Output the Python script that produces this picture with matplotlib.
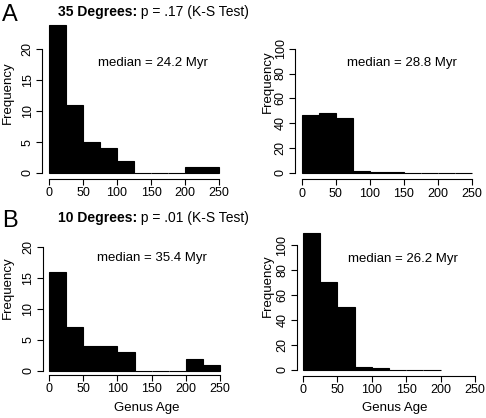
import numpy as np
import matplotlib
matplotlib.use("Agg")
import matplotlib.pyplot as plt

plt.rcParams['font.family'] = ['Liberation Sans', 'DejaVu Sans']

# histogram bins (Myr) and counts
edges = [0, 25, 50, 75, 100, 125, 150, 175, 200, 225, 250]
counts_a_left = [24, 11, 5, 4, 2, 0, 0, 0, 1, 1]
counts_a_right = [47, 48, 44, 2, 1, 1, 0, 0, 0, 0]
counts_b_left = [16, 7, 4, 4, 3, 0, 0, 0, 2, 1]
counts_b_right = [110, 70, 50, 2, 1, 0, 0, 0]

titles_bold = ["35 Degrees:", "10 Degrees:"]
titles_rest = [" p = .17 (K-S Test)", " p = .01 (K-S Test)"]
medians = ["median = 24.2 Myr", "median = 28.8 Myr",
           "median = 35.4 Myr", "median = 26.2 Myr"]
panel_letters = ["A", "B"]

W, H = 486, 418
fig = plt.figure(figsize=(W / 100, H / 100), dpi=100)


def panel(x0, x250, y0, yv, ypx, xline, yline, ytop):
    # place axes so data coords land on the given pixel positions
    sx = (x250 - x0) / 250.0
    sy = (y0 - ypx) / yv
    xmin = -(x0 - yline) / sx
    ymin = -(xline - y0) / sy
    xmax = 262
    right = x0 + xmax * sx
    top = y0 - ytop * sy
    ax = fig.add_axes([yline / W, 1 - xline / H, (right - yline) / W, (xline - top) / H])
    ax.set_xlim(xmin, xmax)
    ax.set_ylim(ymin, ytop)
    return ax


def draw_hist(ax, counts, ymax, ystep):
    n = len(counts)
    left = np.array(edges[:n])
    width = np.diff(edges[:n + 1])
    ax.bar(left, counts, width=width, align='edge', color='black',
           edgecolor='black', linewidth=0.8, clip_on=False)
    for s in ['top', 'right']:
        ax.spines[s].set_visible(False)
    ax.spines['left'].set_bounds(0, ymax)
    ax.spines['bottom'].set_bounds(0, 250)
    ax.spines['left'].set_linewidth(0.8)
    ax.spines['bottom'].set_linewidth(0.8)
    ax.set_xticks(range(0, 251, 50))
    ax.set_yticks(range(0, ymax + 1, ystep))
    ax.tick_params(length=4, width=0.8, labelsize=9, pad=2)
    for lab in ax.get_yticklabels():
        lab.set_rotation(90)
        lab.set_va('center')


ax1 = panel(49, 219, 173, 20, 49.3, 179, 42, 25)
draw_hist(ax1, counts_a_left, 20, 5)
ax2 = panel(301.7, 472, 173, 100, 48.7, 179.3, 295, 110)
draw_hist(ax2, counts_a_right, 100, 20)
ax3 = panel(49, 220, 371, 20, 246.7, 375, 42.7, 20.5)
draw_hist(ax3, counts_b_left, 20, 5)
ax4 = panel(303, 475, 369.7, 100, 245, 375.7, 296.7, 112)
draw_hist(ax4, counts_b_right, 100, 20)


def ftext(x, y, s, **kw):
    return fig.text(x / W, 1 - y / H, s, **kw)


# y labels
for x, y in [(8, 93), (268, 82), (8, 288), (268, 286)]:
    ftext(x, y, "Frequency", rotation=90, ha='center', va='center', fontsize=9.5)

# x labels
ftext(147, 408, "Genus Age", ha='center', va='center', fontsize=9.5)
ftext(395, 408, "Genus Age", ha='center', va='center', fontsize=9.5)

# median annotations
for (x, y), s in zip([(153, 63), (402, 63), (152, 258), (403, 259)], medians):
    ftext(x, y, s, ha='center', va='center', fontsize=9.5)

# panel letters and titles
fig.canvas.draw()
renderer = fig.canvas.get_renderer()
for letter, bold, rest, y in zip(panel_letters, titles_bold, titles_rest, [12, 218]):
    ftext(2, y + 3, letter, ha='left', va='center', fontsize=17)
    t = ftext(58, y, bold, ha='left', va='center', fontsize=10, fontweight='bold')
    bb = t.get_window_extent(renderer)
    fig.text(bb.x1 / W, 1 - y / H, rest, ha='left', va='center', fontsize=10)

fig.savefig("out.png", dpi=100)
